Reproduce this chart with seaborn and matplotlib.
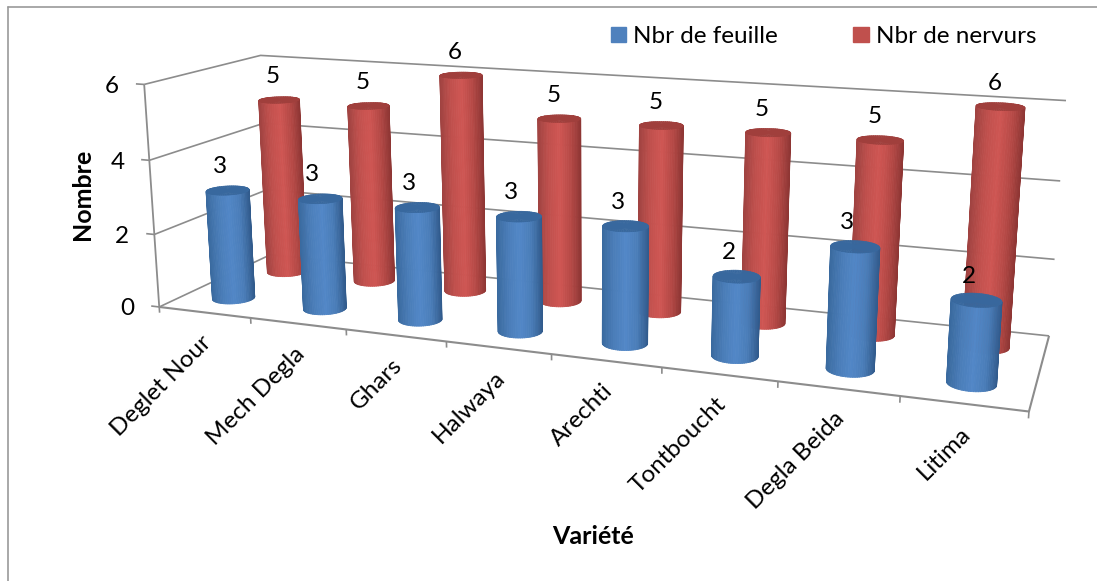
import numpy as np
import matplotlib
matplotlib.use("Agg")
import matplotlib.pyplot as plt
import seaborn as sns
from matplotlib.colors import to_rgba
from matplotlib.lines import Line2D
from matplotlib.patches import Patch
from mpl_toolkits.mplot3d import proj3d

varietes = ["Deglet Nour", "Mech Degla", "Ghars", "Halwaya", "Arechti", "Tontboucht", "Degla Beida", "Litima"]
nbr_feuille = [3, 3, 3, 3, 3, 2, 3, 2]
nbr_nervurs = [5, 5, 6, 5, 5, 5, 5, 6]
z_ticks = [0, 2, 4, 6]

W, H = 1097, 581
GREY = "#8c8c8c"
FONT = "Lato"
FS = 17.5

sns.set_theme(style="white")
plt.rcParams["font.family"] = [FONT, "DejaVu Sans"]

# camera fitted on the box corners of the reference
ELEV, AZIM, FOCAL = 13.667, -69.918, 0.32
ASPECT = (3.751, 0.936, 1.0)
SCALE, CX, CY = 4931.49, 591.19, 372.36
RADIUS = 0.2
FACETS = 64

side = SCALE * 0.185
left = CX - SCALE * 0.095
bottom = CY - SCALE * 0.095

fig = plt.figure(figsize=(W / 100, H / 100), dpi=100)
ax = fig.add_axes([left / W, bottom / H, side / W, side / H], projection="3d")
ax.set_xlim(0, 8)
ax.set_ylim(0, 2)
ax.set_zlim(0, 6)
ax.view_init(ELEV, AZIM)
ax.set_proj_type("persp", focal_length=FOCAL)
ax.set_box_aspect(ASPECT)
ax.set_axis_off()
ax.computed_zorder = False
ax.patch.set_alpha(0)


def line3d(xs, ys, zs, lw=1.2):
    ax.plot(xs, ys, zs, color=GREY, lw=lw, clip_on=False, zorder=1, solid_capstyle="butt")


def label(txt, x, y, z, dx, dy, **kw):
    xp, yp, _ = proj3d.proj_transform(x, y, z, ax.get_proj())
    ax.annotate(txt, (xp, yp), xytext=(dx, dy), textcoords="offset pixels", annotation_clip=False,
                fontsize=FS, color="black", zorder=20, **kw)


def cylinder(x, y, height, colors, cap, z):
    theta = np.linspace(0, 2 * np.pi, FACETS + 1)
    xc = x + RADIUS * np.cos(theta)
    yc = y + RADIUS * np.sin(theta)
    # keep only the facets that face the camera, going left to right on screen
    xp, _, _ = proj3d.proj_transform(xc, yc, np.zeros_like(xc), ax.get_proj())
    xp = np.asarray(xp)
    front = np.diff(xp) > 0
    start = np.argmax(front & ~np.roll(front, 1))
    keep = (start + np.arange(front.sum() + 1)) % FACETS
    xc, yc, xp = xc[keep], yc[keep], xp[keep]

    X = np.vstack([xc, xc])
    Y = np.vstack([yc, yc])
    Z = np.vstack([np.zeros_like(xc), np.full_like(xc, height)])
    mid = (xp[:-1] + xp[1:]) / 2
    t = (mid - xp.min()) / (xp.max() - xp.min())
    idx = np.clip((t * (len(colors) - 1)).astype(int), 0, len(colors) - 1)
    face = np.array([to_rgba(colors[i]) for i in idx]).reshape(1, -1, 4)
    body = ax.plot_surface(X, Y, Z, facecolors=face, shade=False, rstride=1, cstride=1, linewidth=0.6, zorder=z)
    body.set_clip_on(False)

    rr = np.array([0, RADIUS])
    XX = x + np.outer(rr, np.cos(theta))
    YY = y + np.outer(rr, np.sin(theta))
    top = ax.plot_surface(XX, YY, np.full_like(XX, height), color=cap, shade=False, rstride=1, cstride=1,
                          linewidth=0.4, edgecolor=cap, zorder=z + 0.005)
    top.set_clip_on(False)


blue_shades = sns.blend_palette(["#3a6a9f", "#4a7db8", "#5287c7", "#4a7db8", "#30598a"], 80)
red_shades = sns.blend_palette(["#a04341", "#c0504d", "#cf5653", "#b54946", "#8c3533"], 80)

# walls and floor
for z in z_ticks:
    line3d([0, 0, 8], [0, 2, 2], [z, z, z])
    line3d([-0.09, 0], [0, 0], [z, z])
line3d([0, 0], [0, 0], [0, 6], lw=1.3)
line3d([0, 8, 8], [0, 0, 2], [0, 0, 0], lw=1.5)
for i in range(9):
    line3d([i, i], [0, 0], [0, -0.16])

for i, (b, r) in enumerate(zip(nbr_feuille, nbr_nervurs)):
    cylinder(i + 0.5, 1.5, r, red_shades, "#a03f3c", 2 + i * 0.01)
    cylinder(i + 0.5, 0.5, b, blue_shades, "#38689e", 4 + i * 0.01)
    label("%.0f" % b, i + 0.5, 0.5, b, -8, 24, ha="center", va="center")
    label("%.0f" % r, i + 0.5, 1.5, r, -6, 23, ha="center", va="center")

for z in z_ticks:
    label(str(z), 0, 0, z, -32, -2, ha="center", va="center")

for i, name in enumerate(varietes):
    label(name, i + 0.5, 0, 0, 3, -27, ha="right", va="center", rotation=45, rotation_mode="anchor")

fig.text(82 / W, 1 - 194 / H, "Nombre", rotation=90, fontsize=18, fontweight="bold", ha="center", va="center", color="black")
fig.text(593 / W, 1 - 537 / H, "Variété", fontsize=18, fontweight="bold", ha="center", va="center", color="black")

handles = [Patch(color="#4f81bd", label="Nbr de feuille"), Patch(color="#c0504d", label="Nbr de nervurs")]
fig.legend(handles=handles, ncols=2, frameon=False, loc="upper left", bbox_to_anchor=(611 / W, 1 - 26 / H),
           fontsize=FS, handlelength=0.62, handleheight=0.62, handletextpad=0.3, columnspacing=3.1,
           borderpad=0, borderaxespad=0, labelcolor="black")

fig.add_artist(Line2D([8 / W, 8 / W], [0, 1 - 7 / H], color="#999999", lw=1.2, transform=fig.transFigure))
fig.add_artist(Line2D([8 / W, 1], [1 - 7 / H, 1 - 7 / H], color="#999999", lw=1.2, transform=fig.transFigure))

fig.savefig("out.png", dpi=100)
